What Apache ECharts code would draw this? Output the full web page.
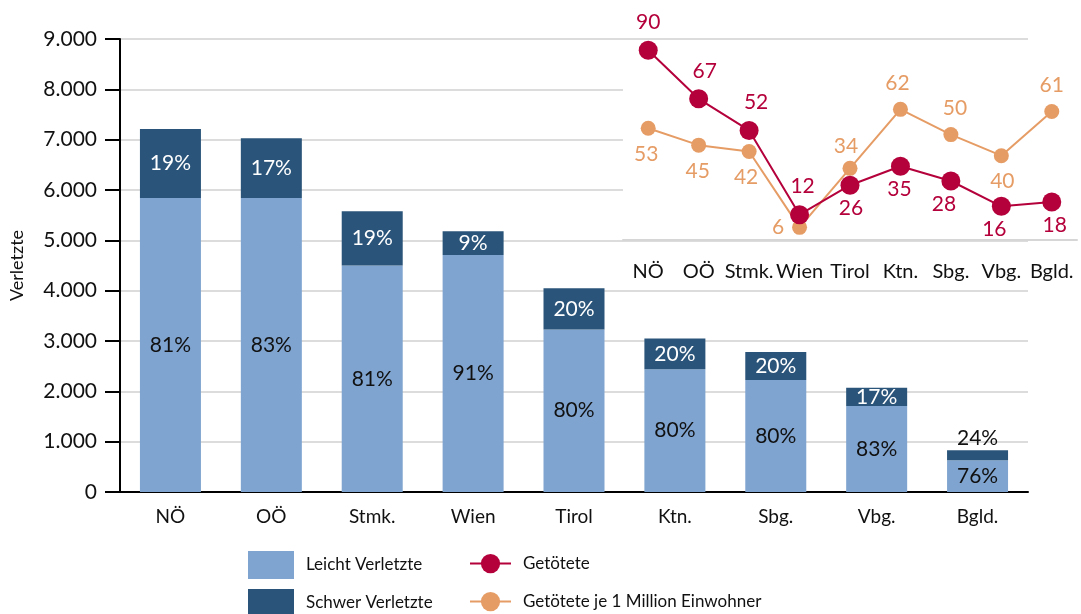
<!DOCTYPE html>
<html>
<head>
<meta charset="utf-8">
<script src="https://cdn.jsdelivr.net/npm/echarts@6/dist/echarts.min.js"></script>
<style>
  html, body { margin: 0; padding: 0; background: #fff; }
  #chart { width: 1081px; height: 614px; }
</style>
</head>
<body>
<div id="chart"></div>
<script>
// Bundesländer
const categories = ['NÖ', 'OÖ', 'Stmk.', 'Wien', 'Tirol', 'Ktn.', 'Sbg.', 'Vbg.', 'Bgld.'];
// Verletzte (absolute)
const leichtVerletzte = [5840, 5840, 4500, 4710, 3230, 2440, 2225, 1710, 630];
const schwerVerletzte = [1370, 1190, 1080, 470, 820, 610, 555, 360, 200];
// inset: Getötete
const getoetete = [90, 67, 52, 12, 26, 35, 28, 16, 18];
const getoeteteJeMio = [53, 45, 42, 6, 34, 62, 50, 40, 61];

const FONT = 'Lato';
const RED = '#b4003b';
const ORANGE = '#e69c65';

const fmtThousands = v => String(v).replace(/\B(?=(\d{3})+(?!\d))/g, '.');
const share = (a, b) => Math.round(a / (a + b) * 100);

// label placement for the inset points
const redPos = ['top', 'top', 'top', 'top', 'bottom', 'bottom', 'bottom', 'bottom', 'bottom'];
const redOff = [[0, 0], [6, 0], [7, 0], [3, 0], [1, 0], [-1, 0], [-7, 0], [-7, 0], [3, 0]];
const orangePos = ['bottom', 'bottom', 'bottom', 'left', 'top', 'top', 'top', 'bottom', 'top'];
const orangeOff = [[-2, 0], [-1, 0], [-3, 0], [0, 0], [-4, 4], [-3, 0], [4, 0], [1, 0], [0, 0]];

const legendText = { fontSize: 17, color: '#111', fontFamily: FONT, padding: [0, 0, 0, 7] };
const boxLegend = (name, top) => ({
    data: [name], left: 248, top: top, icon: 'rect', padding: 0,
    itemWidth: 46, itemHeight: 28, textStyle: legendText
});
const lineLegend = (name, top) => ({
    data: [name], left: 469, top: top, padding: 0,
    itemWidth: 41, itemHeight: 24, textStyle: legendText
});

const myChart = echarts.init(document.getElementById('chart'));

const option = {
    animation: false,
    textStyle: { fontFamily: FONT },
    legend: [
        boxLegend('Leicht Verletzte', 551),
        boxLegend('Schwer Verletzte', 589),
        lineLegend('Getötete', 554),
        lineLegend('Getötete je 1 Million Einwohner', 592)
    ],
    grid: [
        { left: 120, right: 53, top: 39, bottom: 122 },
        { left: 623, right: 4, top: 44, bottom: 374, show: true, backgroundColor: '#fff', borderWidth: 0, z: 1 }
    ],
    xAxis: [
        {
            type: 'category',
            gridIndex: 0,
            data: categories,
            axisLine: { lineStyle: { color: '#000', width: 2 } },
            axisTick: { show: false },
            axisLabel: { color: '#111', fontSize: 19, margin: 15, fontFamily: FONT }
        }, {
            type: 'category',
            gridIndex: 1,
            data: categories,
            z: 2,
            axisLine: { lineStyle: { color: '#d6d6d6', width: 2 } },
            axisTick: { show: false },
            axisLabel: { color: '#111', fontSize: 20, margin: 22, interval: 0, fontFamily: FONT }
        }
    ],
    yAxis: [
        {
            type: 'value',
            gridIndex: 0,
            min: 0,
            max: 9000,
            interval: 1000,
            name: 'Verletzte',
            nameLocation: 'middle',
            nameGap: 94,
            nameTextStyle: { fontSize: 18, color: '#111', fontFamily: FONT },
            axisLine: { show: true, lineStyle: { color: '#000', width: 2 } },
            axisTick: { show: true, length: 15, lineStyle: { color: '#000', width: 2 } },
            axisLabel: { color: '#111', fontSize: 21, margin: 23, formatter: fmtThousands, fontFamily: FONT },
            splitLine: { show: true, lineStyle: { color: '#dcdcdc', width: 2 } }
        }, {
            type: 'value',
            gridIndex: 1,
            min: 0,
            max: 93,
            show: false,
            splitLine: { show: false }
        }
    ],
    series: [
        {
            name: 'Leicht Verletzte',
            type: 'bar',
            stack: 'v',
            barWidth: 61,
            xAxisIndex: 0,
            yAxisIndex: 0,
            itemStyle: { color: '#7fa4d0' },
            label: {
                show: true,
                position: 'inside',
                color: '#111',
                fontSize: 21,
                fontFamily: FONT,
                formatter: p => share(leichtVerletzte[p.dataIndex], schwerVerletzte[p.dataIndex]) + '%'
            },
            data: leichtVerletzte
        }, {
            name: 'Schwer Verletzte',
            type: 'bar',
            stack: 'v',
            barWidth: 61,
            xAxisIndex: 0,
            yAxisIndex: 0,
            itemStyle: { color: '#2a5479' },
            label: {
                show: true,
                position: 'inside',
                color: '#fff',
                fontSize: 21,
                fontFamily: FONT,
                formatter: p => share(schwerVerletzte[p.dataIndex], leichtVerletzte[p.dataIndex]) + '%'
            },
            data: schwerVerletzte.map(v => v < 300
                ? { value: v, label: { position: 'top', color: '#111', distance: 1 } }
                : v)
        }, {
            name: 'Getötete',
            type: 'line',
            xAxisIndex: 1,
            yAxisIndex: 1,
            z: 4,
            symbol: 'circle',
            symbolSize: 19,
            color: RED,
            lineStyle: { color: RED, width: 2 },
            itemStyle: { color: RED },
            label: { show: true, color: RED, fontSize: 21, fontFamily: FONT },
            data: getoetete.map((v, i) => ({
                value: v,
                label: { position: redPos[i], offset: redOff[i], distance: redPos[i] === 'top' ? 8 : 3 }
            }))
        }, {
            name: 'Getötete je 1 Million Einwohner',
            type: 'line',
            xAxisIndex: 1,
            yAxisIndex: 1,
            z: 3,
            symbol: 'circle',
            symbolSize: 15,
            color: ORANGE,
            lineStyle: { color: ORANGE, width: 2 },
            itemStyle: { color: ORANGE },
            label: { show: true, color: ORANGE, fontSize: 21, fontFamily: FONT },
            data: getoeteteJeMio.map((v, i) => ({
                value: v,
                label: { position: orangePos[i], offset: orangeOff[i], distance: 8 }
            }))
        }
    ]
};

myChart.setOption(option);
</script>
</body>
</html>
